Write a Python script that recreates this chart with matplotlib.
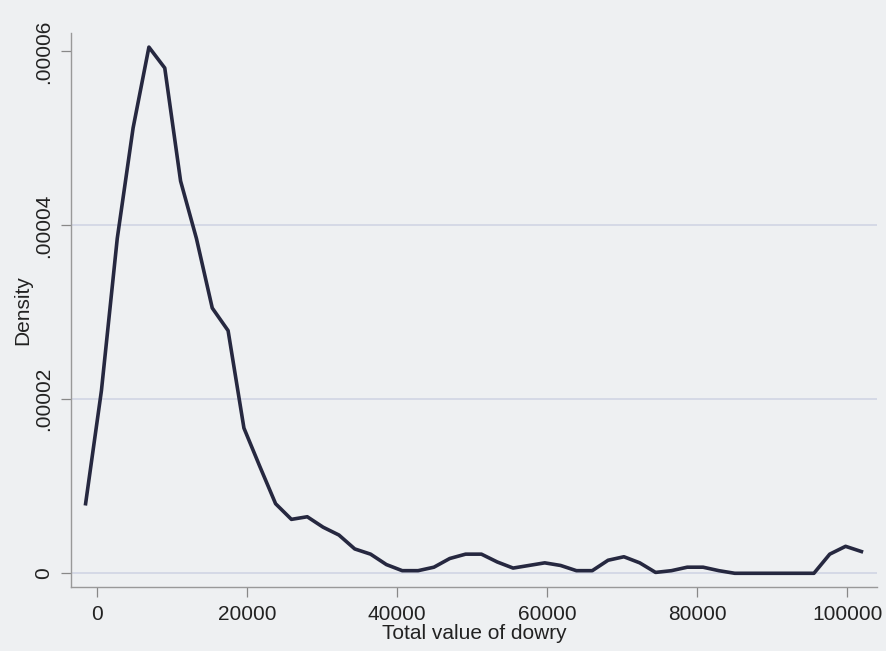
import matplotlib.pyplot as plt
from matplotlib.ticker import FuncFormatter

plt.rcParams['font.family'] = ['Liberation Sans', 'DejaVu Sans']

# kernel density estimate (x in value, y in density)
dowry = [-1500, 610, 2720, 4830, 6940, 9050, 11160, 13270, 15380, 17490,
         19600, 21710, 23820, 25930, 28040, 30150, 32260, 34370, 36480, 38590,
         40700, 42810, 44920, 47030, 49140, 51250, 53360, 55470, 57580, 59690,
         61800, 63910, 66020, 68130, 70240, 72350, 74460, 76570, 78680, 80790,
         82900, 85010, 87120, 89230, 91340, 93450, 95560, 97670, 99780, 101890]
density_e5 = [0.80, 2.10, 3.85, 5.12, 6.05, 5.81, 4.51, 3.85, 3.05, 2.79,
              1.67, 1.23, 0.80, 0.62, 0.65, 0.53, 0.44, 0.28, 0.22, 0.10,
              0.03, 0.03, 0.07, 0.17, 0.22, 0.22, 0.13, 0.06, 0.09, 0.12,
              0.09, 0.03, 0.03, 0.15, 0.19, 0.12, 0.01, 0.03, 0.07, 0.07,
              0.03, 0.00, 0.00, 0.00, 0.00, 0.00, 0.00, 0.22, 0.31, 0.25]
density = [d * 1e-5 for d in density_e5]

x_ticks = [0, 20000, 40000, 60000, 80000, 100000]
y_ticks = [0, 0.00002, 0.00004, 0.00006]

bg = '#eef0f2'
fig = plt.figure(figsize=(8.87, 6.51), dpi=100, facecolor=bg)
ax = fig.add_axes([0.080, 0.098, 0.909, 0.851], facecolor=bg)

# gridlines (Stata style, none at top tick)
for yv in y_ticks[:-1]:
    ax.axhline(yv, color='#d0d5e4', lw=1.2, zorder=1)

ax.plot(dowry, density, color='#262840', lw=2.6, zorder=3)

ax.set_xlim(-3450, 104000)
ax.set_ylim(-0.0000016, 0.0000621)
ax.set_xticks(x_ticks)
ax.set_yticks(y_ticks)
ax.xaxis.set_major_formatter(FuncFormatter(lambda v, p: '%d' % v))
ax.yaxis.set_major_formatter(
    FuncFormatter(lambda v, p: '0' if v == 0 else ('%.5f' % v).lstrip('0')))
plt.setp(ax.get_yticklabels(), rotation=90, va='center')

ax.tick_params(axis='both', labelsize=15, colors='#888888', labelcolor='#222222',
               length=7, width=0.9, direction='out')
ax.tick_params(axis='x', pad=6)
ax.tick_params(axis='y', pad=6)

for side in ['top', 'right']:
    ax.spines[side].set_visible(False)
for side in ['left', 'bottom']:
    ax.spines[side].set_color('#999999')
    ax.spines[side].set_linewidth(1.0)

ax.set_xlabel('Total value of dowry', fontsize=15, color='#222222', labelpad=0)
ax.set_ylabel('Density', fontsize=15, color='#222222', labelpad=1)

fig.savefig('out.png', dpi=100, facecolor=bg)
